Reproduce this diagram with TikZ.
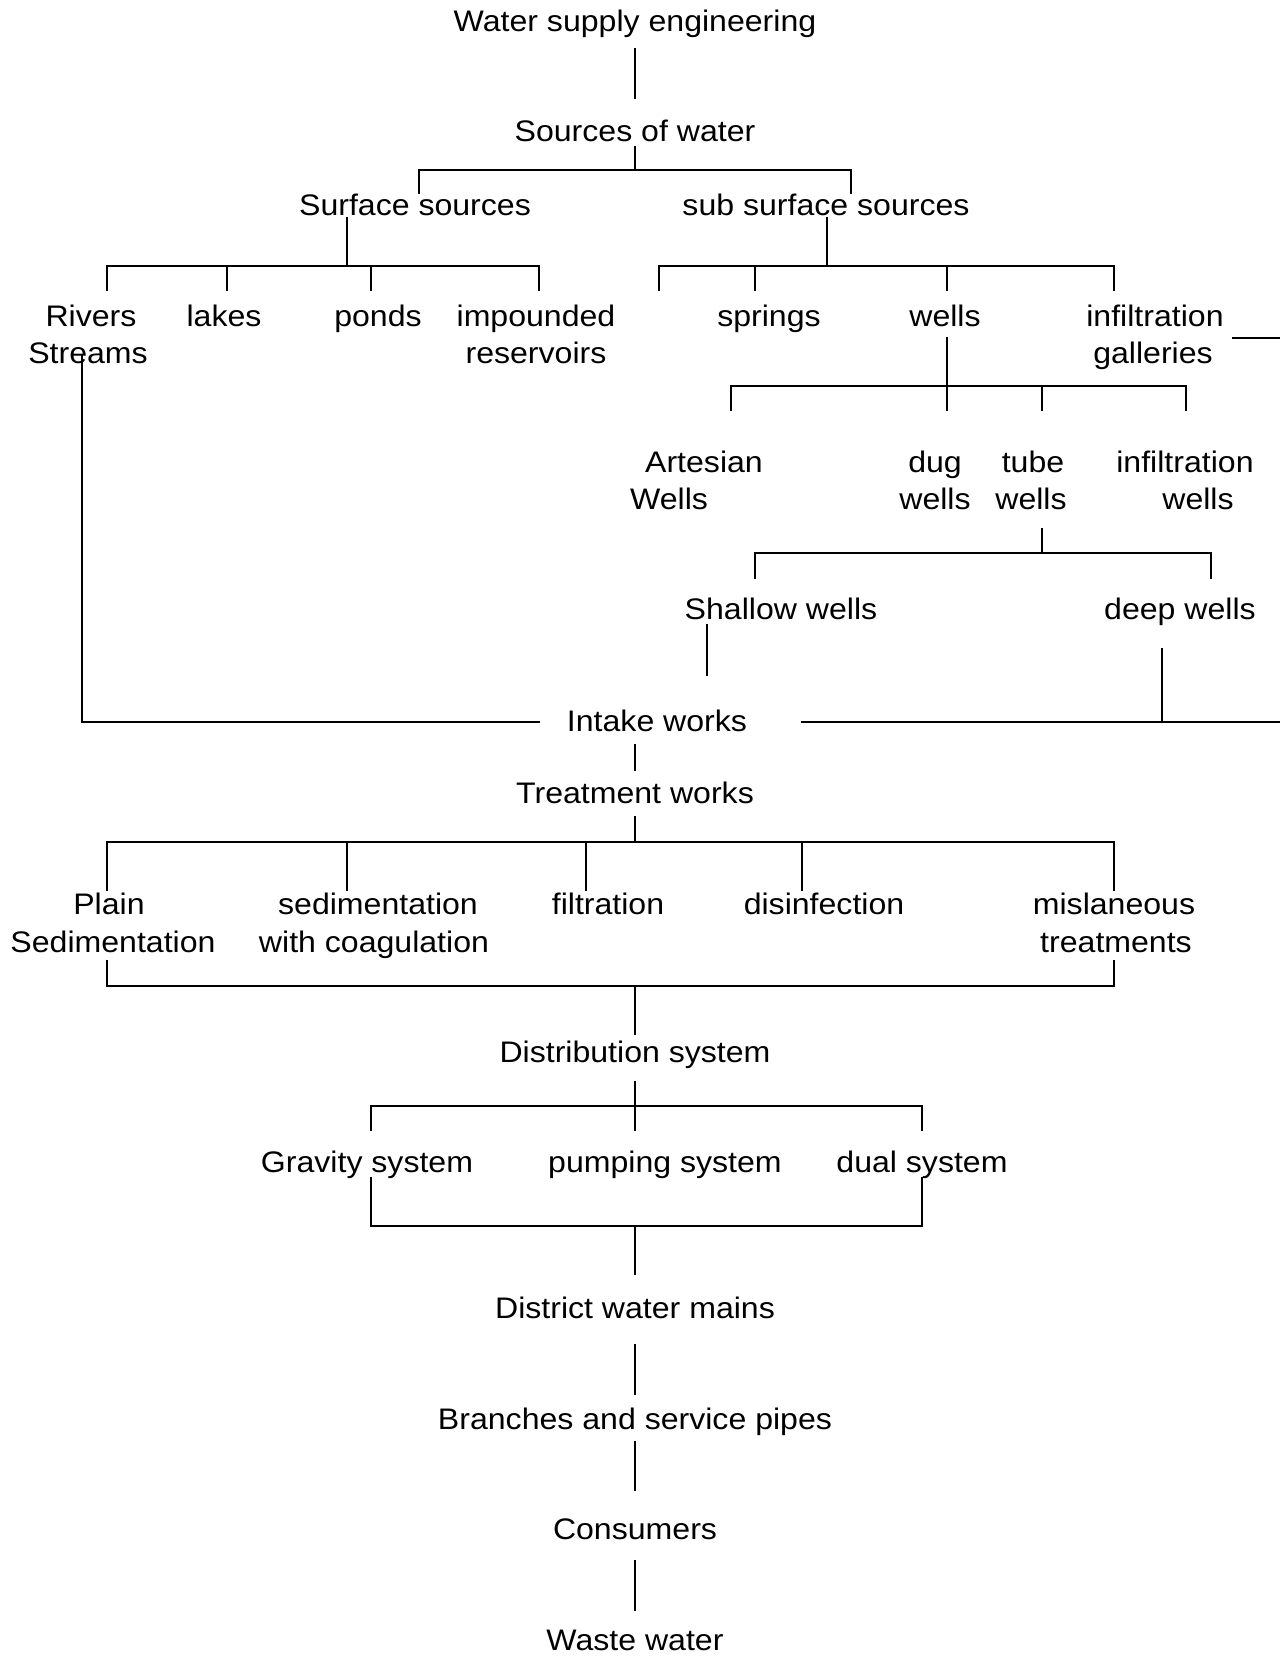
\documentclass[tikz,border=0pt]{standalone}
\usepackage{fontspec}
\setmainfont{Liberation Sans}[FakeStretch=1.08]
\begin{document}
\begin{tikzpicture}[x=1pt,y=-1pt,
  lbl/.style={anchor=base,inner sep=0pt,font=\fontsize{29.7}{37}\selectfont},
  conn/.style={line width=1.7pt,line cap=rect}]
\useasboundingbox (0,0) rectangle (1280,1658);
% ---------- labels ----------
\node[lbl] (wse) at (635,31) {Water supply engineering};
\node[lbl] (sow) at (635,141) {Sources of water};
\node[lbl] (surf) at (415,215) {Surface sources};
\node[lbl] (sub) at (826,215) {sub surface sources};
\node[lbl] (rivers) at (91,326) {Rivers};
\node[lbl] (streams) at (88,363) {Streams};
\node[lbl] (lakes) at (224,326) {lakes};
\node[lbl] (ponds) at (378,326) {ponds};
\node[lbl] (imp) at (536,326) {impounded};
\node[lbl] (res) at (536,363) {reservoirs};
\node[lbl] (springs) at (769,326) {springs};
\node[lbl] (wells) at (945,326) {wells};
\node[lbl] (infg) at (1155,326) {infiltration};
\node[lbl] (gall) at (1153,363) {galleries};
\node[lbl] (art) at (704,472) {Artesian};
\node[lbl] (artw) at (669,509) {Wells};
\node[lbl] (dug) at (935,472) {dug};
\node[lbl] (dugw) at (935,509) {wells};
\node[lbl] (tube) at (1033,472) {tube};
\node[lbl] (tubew) at (1031,509) {wells};
\node[lbl] (infw) at (1185,472) {infiltration};
\node[lbl] (infww) at (1198,509) {wells};
\node[lbl] (shallow) at (781,619) {Shallow wells};
\node[lbl] (deep) at (1180,619) {deep wells};
\node[lbl] (intake) at (657,731) {Intake works};
\node[lbl] (treat) at (635,803) {Treatment works};
\node[lbl] (plain) at (109,914) {Plain};
\node[lbl] (plainsed) at (113,952) {Sedimentation};
\node[lbl] (sedc) at (378,914) {sedimentation};
\node[lbl] (sedcw) at (374,952) {with coagulation};
\node[lbl] (filt) at (608,914) {filtration};
\node[lbl] (dis) at (824,914) {disinfection};
\node[lbl] (misc) at (1114,914) {mislaneous};
\node[lbl] (misct) at (1116,952) {treatments};
\node[lbl] (dist) at (635,1062) {Distribution system};
\node[lbl] (grav) at (367,1172) {Gravity system};
\node[lbl] (pump) at (665,1172) {pumping system};
\node[lbl] (dual) at (922,1172) {dual system};
\node[lbl] (mains) at (635,1318) {District water mains};
\node[lbl] (branch) at (635,1429) {Branches and service pipes};
\node[lbl] (cons) at (635,1539) {Consumers};
\node[lbl] (waste) at (635,1650) {Waste water};
% ---------- junction coordinates ----------
\coordinate (a1) at (635,49);   \coordinate (a2) at (635,98);
\coordinate (b1) at (635,147);  \coordinate (b2) at (635,170);
\coordinate (bL) at (419,170);  \coordinate (bR) at (851,170);
\coordinate (bLd) at (419,193); \coordinate (bRd) at (851,193);
\coordinate (c1) at (347,218);  \coordinate (c2) at (347,266);
\coordinate (cL) at (107,266);  \coordinate (cR) at (539,266);
\coordinate (d1) at (827,218);  \coordinate (d2) at (827,266);
\coordinate (dL) at (659,266);  \coordinate (dR) at (1114,266);
\coordinate (e1) at (947,338);  \coordinate (e2) at (947,386);
\coordinate (eL) at (731,386);  \coordinate (eR) at (1186,386);
\coordinate (f1) at (1042,529); \coordinate (f2) at (1042,553);
\coordinate (fL) at (755,553);  \coordinate (fR) at (1211,553);
\coordinate (g1) at (707,625);  \coordinate (g2) at (707,675);
\coordinate (h1) at (1162,649); \coordinate (h2) at (1162,722);
\coordinate (r1) at (82,355);   \coordinate (r2) at (82,722);
\coordinate (r3) at (539,722);
\coordinate (i1) at (802,722);  \coordinate (i2) at (1280,722);
\coordinate (k1) at (1233,338); \coordinate (k2) at (1280,338);
\coordinate (t1) at (635,745);  \coordinate (t2) at (635,770);
\coordinate (u1) at (635,817);  \coordinate (u2) at (635,842);
\coordinate (uL) at (107,842);  \coordinate (uR) at (1114,842);
\coordinate (vL) at (107,961);  \coordinate (vR) at (1114,961);
\coordinate (vLb) at (107,986); \coordinate (vRb) at (1114,986);
\coordinate (v1) at (635,986);  \coordinate (v2) at (635,1034);
\coordinate (w1) at (635,1082); \coordinate (w2) at (635,1130);
\coordinate (wL) at (371,1106); \coordinate (wR) at (922,1106);
\coordinate (wLd) at (371,1130);\coordinate (wRd) at (922,1130);
\coordinate (xL) at (371,1178); \coordinate (xR) at (922,1178);
\coordinate (xLb) at (371,1226);\coordinate (xRb) at (922,1226);
\coordinate (x1) at (635,1226); \coordinate (x2) at (635,1274);
\coordinate (y1) at (635,1345); \coordinate (y2) at (635,1394);
\coordinate (z1) at (635,1442); \coordinate (z2) at (635,1490);
\coordinate (q1) at (635,1561); \coordinate (q2) at (635,1610);
% ---------- connectors ----------
\draw[conn] (a1) -- (a2);
\draw[conn] (b1) -- (b2);
\draw[conn] (bLd) -- (bL) -- (bR) -- (bRd);
\draw[conn] (c1) -- (c2);
\draw[conn] (cL) -- (cR);
\foreach \xx in {107,227,371,539} \draw[conn] (\xx,266) -- (\xx,290);
\draw[conn] (d1) -- (d2);
\draw[conn] (dL) -- (dR);
\foreach \xx in {659,755,947,1114} \draw[conn] (\xx,266) -- (\xx,290);
\draw[conn] (e1) -- (e2);
\draw[conn] (eL) -- (eR);
\foreach \xx in {731,947,1042,1186} \draw[conn] (\xx,386) -- (\xx,410);
\draw[conn] (f1) -- (f2);
\draw[conn] (fL) -- (fR);
\foreach \xx in {755,1211} \draw[conn] (\xx,553) -- (\xx,578);
\draw[conn] (g1) -- (g2);
\draw[conn] (h1) -- (h2);
\draw[conn] (r1) -- (r2) -- (r3);
\draw[conn] (i1) -- (i2);
\draw[conn] (k1) -- (k2);
\draw[conn] (t1) -- (t2);
\draw[conn] (u1) -- (u2);
\draw[conn] (uL) -- (uR);
\foreach \xx in {107,347,586,802,1114} \draw[conn] (\xx,842) -- (\xx,890);
\draw[conn] (vL) -- (vLb) -- (vRb) -- (vR);
\draw[conn] (v1) -- (v2);
\draw[conn] (w1) -- (w2);
\draw[conn] (wLd) -- (wL) -- (wR) -- (wRd);
\draw[conn] (xL) -- (xLb) -- (xRb) -- (xR);
\draw[conn] (x1) -- (x2);
\draw[conn] (y1) -- (y2);
\draw[conn] (z1) -- (z2);
\draw[conn] (q1) -- (q2);
\end{tikzpicture}
\end{document}
